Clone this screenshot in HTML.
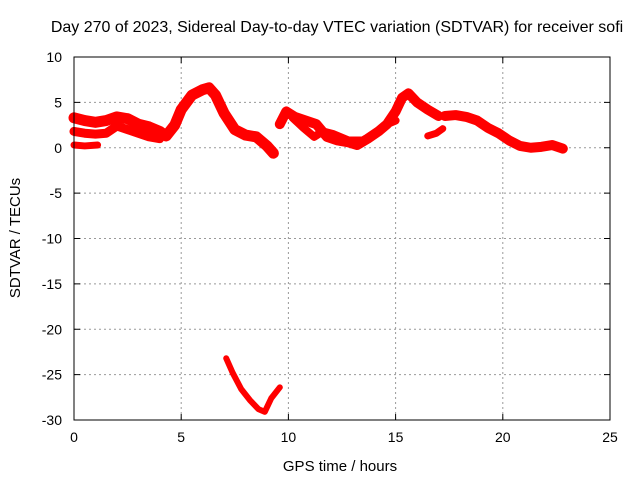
<!DOCTYPE html>
<html><head><meta charset="utf-8"><style>
body{margin:0;background:#fff;}
svg text{font-family:"Liberation Sans",sans-serif;font-size:14px;fill:#000;}
</style></head><body>
<svg id="c" width="640" height="480">
<text x="337" y="32" text-anchor="middle" style="font-size:16px">Day 270 of 2023, Sidereal Day-to-day VTEC variation (SDTVAR) for receiver sofi</text>
<text x="340" y="471" text-anchor="middle" style="font-size:15px">GPS time / hours</text>
<text transform="translate(20,238) rotate(-90)" text-anchor="middle" style="font-size:15px">SDTVAR / TECUs</text>
<g id="grid"></g><g id="ticks"></g><g id="series"></g>
<rect x="74" y="57" width="536" height="363" fill="none" stroke="#000"/>
</svg>
<script>
const xTicks=[0,5,10,15,20,25];
const yTicks=[10,5,0,-5,-10,-15,-20,-25,-30];
const trackA_x=[0,0.5,1,1.5,2,2.5,3,3.5,4,4.3,4.7,5,5.5,6,6.3,6.6,7,7.5,8,8.5,9,9.3];
const trackA_y=[3.3,3,2.8,3,3.4,3.2,2.6,2.3,1.8,1.3,2.5,4.2,5.8,6.4,6.6,5.8,3.8,2,1.4,1.2,0.2,-0.6];
const trackB_x=[0,0.5,1,1.5,2,2.5,3,3.5,4];
const trackB_y=[1.8,1.6,1.5,1.6,2.4,2,1.6,1.2,1];
const trackC_x=[0,0.5,1.1];
const trackC_y=[0.3,0.2,0.3];
const trackD_x=[9.6,9.9,10.3,10.8,11.3,11.8,12.3,12.8,13.2,13.7,14.2,14.6,15,15.3,15.6,16,16.5,17];
const trackD_y=[2.6,4,3.4,3,2.6,1.2,0.8,0.6,0.3,1,1.8,2.6,4,5.5,6,5,4.2,3.5];
const trackE_x=[10.2,10.7,11.2,11.6,12.1,12.8,13.5,14,14.5,15];
const trackE_y=[3.3,2.2,1.2,1.8,1.5,0.8,0.8,1.5,2.5,3];
const trackF_x=[16.5,16.9,17.2];
const trackF_y=[1.3,1.6,2.1];
const trackG_x=[17.3,17.8,18.3,18.8,19.3,19.8,20.3,20.8,21.3,21.8,22.3,22.8];
const trackG_y=[3.5,3.6,3.4,3,2.2,1.6,0.8,0.2,0,0.1,0.3,-0.1];
const trackH_x=[7.1,7.4,7.8,8.2,8.6,8.9,9.2,9.6];
const trackH_y=[-23.2,-24.8,-26.6,-27.8,-28.8,-29.1,-27.6,-26.4];
const X=v=>74+v*536/25, Y=v=>57+(10-v)*363/40;
const NS="http://www.w3.org/2000/svg";
const grid=document.getElementById('grid'),ticks=document.getElementById('ticks'),ser=document.getElementById('series');
function mk(tag,at,p){const e=document.createElementNS(NS,tag);for(const k in at)e.setAttribute(k,at[k]);p.appendChild(e);return e;}
xTicks.forEach((t,i)=>{
 if(i>0&&i<xTicks.length-1){const g=mk('line',{x1:X(t),x2:X(t),y1:57,y2:420,stroke:'#999','stroke-dasharray':'2,3'},grid);
 
 }
 const l=mk('text',{x:X(t),y:442,'text-anchor':'middle'},ticks);l.textContent=t;
 
 
 mk('line',{x1:X(t),x2:X(t),y1:420,y2:414,stroke:'#000'},ticks);mk('line',{x1:X(t),x2:X(t),y1:57,y2:63,stroke:'#000'},ticks);
});
yTicks.forEach((t,i)=>{
 if(i>0&&i<yTicks.length-1){const g=mk('line',{x1:74,x2:610,y1:Y(t),y2:Y(t),stroke:'#999','stroke-dasharray':'2,3'},grid);
 
 }
 const l=mk('text',{x:62,y:Y(t)+5,'text-anchor':'end'},ticks);l.textContent=t;
 
 
 mk('line',{x1:74,x2:80,y1:Y(t),y2:Y(t),stroke:'#000'},ticks);mk('line',{x1:604,x2:610,y1:Y(t),y2:Y(t),stroke:'#000'},ticks);
});
[[trackA_x,trackA_y,11],[trackB_x,trackB_y,9],[trackC_x,trackC_y,7],[trackD_x,trackD_y,10],[trackE_x,trackE_y,8],[trackF_x,trackF_y,7],[trackG_x,trackG_y,10],[trackH_x,trackH_y,6]].forEach(([xs,ys,w])=>{
 const pts=xs.map((x,i)=>X(x)+','+Y(ys[i])).join(' ');
 const p=mk('polyline',{points:pts,fill:'none',stroke:'#f00','stroke-width':w,'stroke-linejoin':'round','stroke-linecap':'round'},ser);
 
 
});
</script>
</body></html>
